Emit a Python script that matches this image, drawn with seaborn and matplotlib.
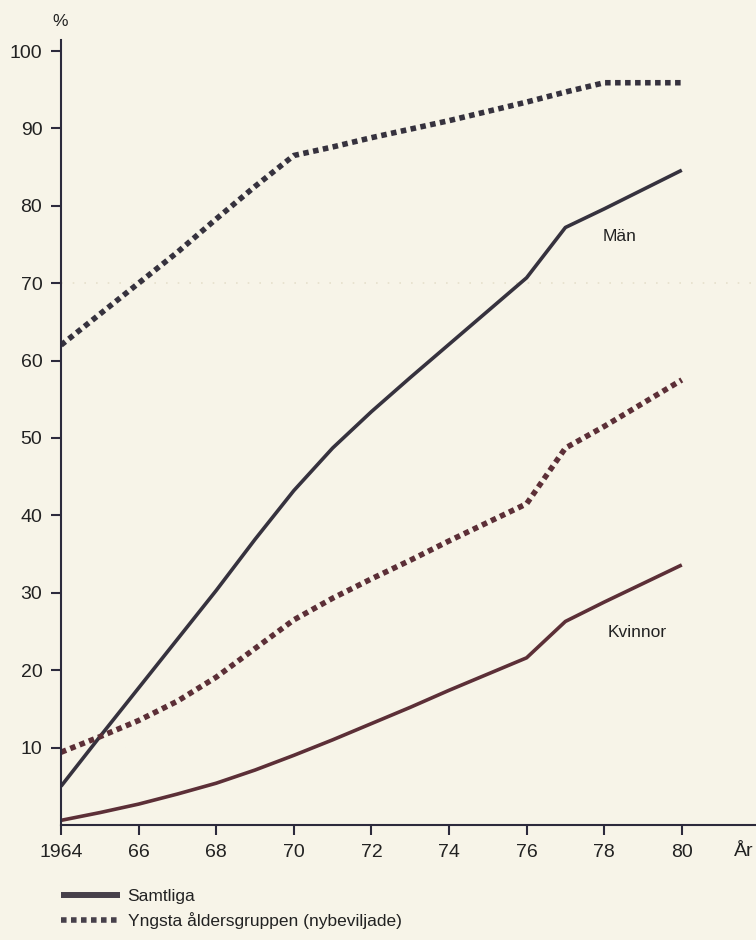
import pandas as pd
import matplotlib
matplotlib.use("Agg")
import matplotlib.pyplot as plt
from matplotlib.lines import Line2D
import seaborn as sns

# years and the four series (percent)
years = [1964, 1965, 1966, 1967, 1968, 1969, 1970, 1971, 1972,
         1973, 1974, 1975, 1976, 1977, 1978, 1979, 1980]
man_all = [5.0, 11.4, 17.7, 24.0, 30.3, 36.9, 43.2, 48.7, 53.4,
           57.8, 62.1, 66.4, 70.7, 77.2, 79.6, 82.1, 84.6]
man_young = [62.0, 66.0, 70.0, 74.0, 78.3, 82.5, 86.5, 87.6, 88.8,
             89.9, 91.0, 92.2, 93.4, 94.7, 95.9, 95.9, 95.9]
kv_all = [0.6, 1.6, 2.7, 4.0, 5.4, 7.1, 9.0, 11.0, 13.1,
          15.2, 17.4, 19.5, 21.6, 26.3, 28.8, 31.2, 33.6]
kv_young = [9.4, 11.4, 13.5, 16.0, 19.1, 22.8, 26.5, 29.3, 31.8,
            34.2, 36.7, 39.1, 41.5, 48.7, 51.5, 54.5, 57.5]

x_ticks = [1964, 1966, 1968, 1970, 1972, 1974, 1976, 1978, 1980]
x_labels = ["1964", "66", "68", "70", "72", "74", "76", "78", "80"]
y_ticks = [10, 20, 30, 40, 50, 60, 70, 80, 90, 100]

legend_labels = ["Samtliga", "Yngsta åldersgruppen (nybeviljade)"]

bg = "#f7f4e8"
dark = "#36323e"
brown = "#5c2f37"
ink = "#2c2a3c"

df_all = pd.DataFrame({"year": years * 2,
                       "value": man_all + kv_all,
                       "kon": ["Män"] * len(years) + ["Kvinnor"] * len(years)})
df_young = pd.DataFrame({"year": years * 2,
                         "value": man_young + kv_young,
                         "kon": ["Män"] * len(years) + ["Kvinnor"] * len(years)})
palette = {"Män": dark, "Kvinnor": brown}

sns.set_style("ticks")
plt.rcParams["font.family"] = ["Liberation Sans", "DejaVu Sans"]

fig = plt.figure(figsize=(7.56, 9.40), dpi=100, facecolor=bg)
ax = fig.add_axes([61 / 756, 1 - 825 / 940, 695 / 756, 785 / 940])
ax.set_facecolor(bg)

# faint show-through line seen on the scan
ax.axhline(70, color="#e6e0cc", lw=1.2, ls=(0, (1, 6)), zorder=0)

sns.lineplot(data=df_all, x="year", y="value", hue="kon", palette=palette,
             linewidth=2.6, solid_capstyle="butt", legend=False, ax=ax)
sns.lineplot(data=df_young, x="year", y="value", hue="kon", palette=palette,
             linewidth=4.0, linestyle=(0, (1, 0.8)), dash_capstyle="butt",
             legend=False, ax=ax)

ax.set_xlim(1964, 1964 + 695 / 38.8)
ax.set_ylim(0, 785 / 7.74)
ax.set_xticks(x_ticks)
ax.set_xticklabels(x_labels)
ax.set_yticks(y_ticks)
ax.set_xlabel("")
ax.set_ylabel("")

sns.despine(ax=ax)
for s in ["left", "bottom"]:
    ax.spines[s].set_color(ink)
    ax.spines[s].set_linewidth(1.5)
ax.tick_params(axis="both", length=7.5, width=1.5, color=ink, labelcolor="#222222",
               labelsize=14, pad=6)

ax.text(1978.4, 76.0, "Män", fontsize=12.5, color="#222222", ha="center", va="center")
ax.text(1978.85, 24.9, "Kvinnor", fontsize=12.5, color="#222222", ha="center", va="center")

fig.text(60 / 756, 1 - 21 / 940, "%", fontsize=12.5, color="#222222", ha="center", va="center")
fig.text(744 / 756, 1 - 852 / 940, "År", fontsize=14, color="#222222", ha="center", va="center")

handles = [Line2D([0], [0], color="#47404a", lw=4.3, solid_capstyle="butt"),
           Line2D([0], [0], color="#47404a", lw=4.0, ls=(0, (1, 0.8)), dash_capstyle="butt")]
fig.legend(handles, legend_labels, loc="upper left", bbox_to_anchor=(52 / 756, 1 - 880 / 940),
           frameon=False, fontsize=12.5, handlelength=3.4, handletextpad=0.45,
           labelspacing=0.45, borderpad=0, labelcolor="#222222")

fig.savefig("out.png", dpi=100, facecolor=bg)
